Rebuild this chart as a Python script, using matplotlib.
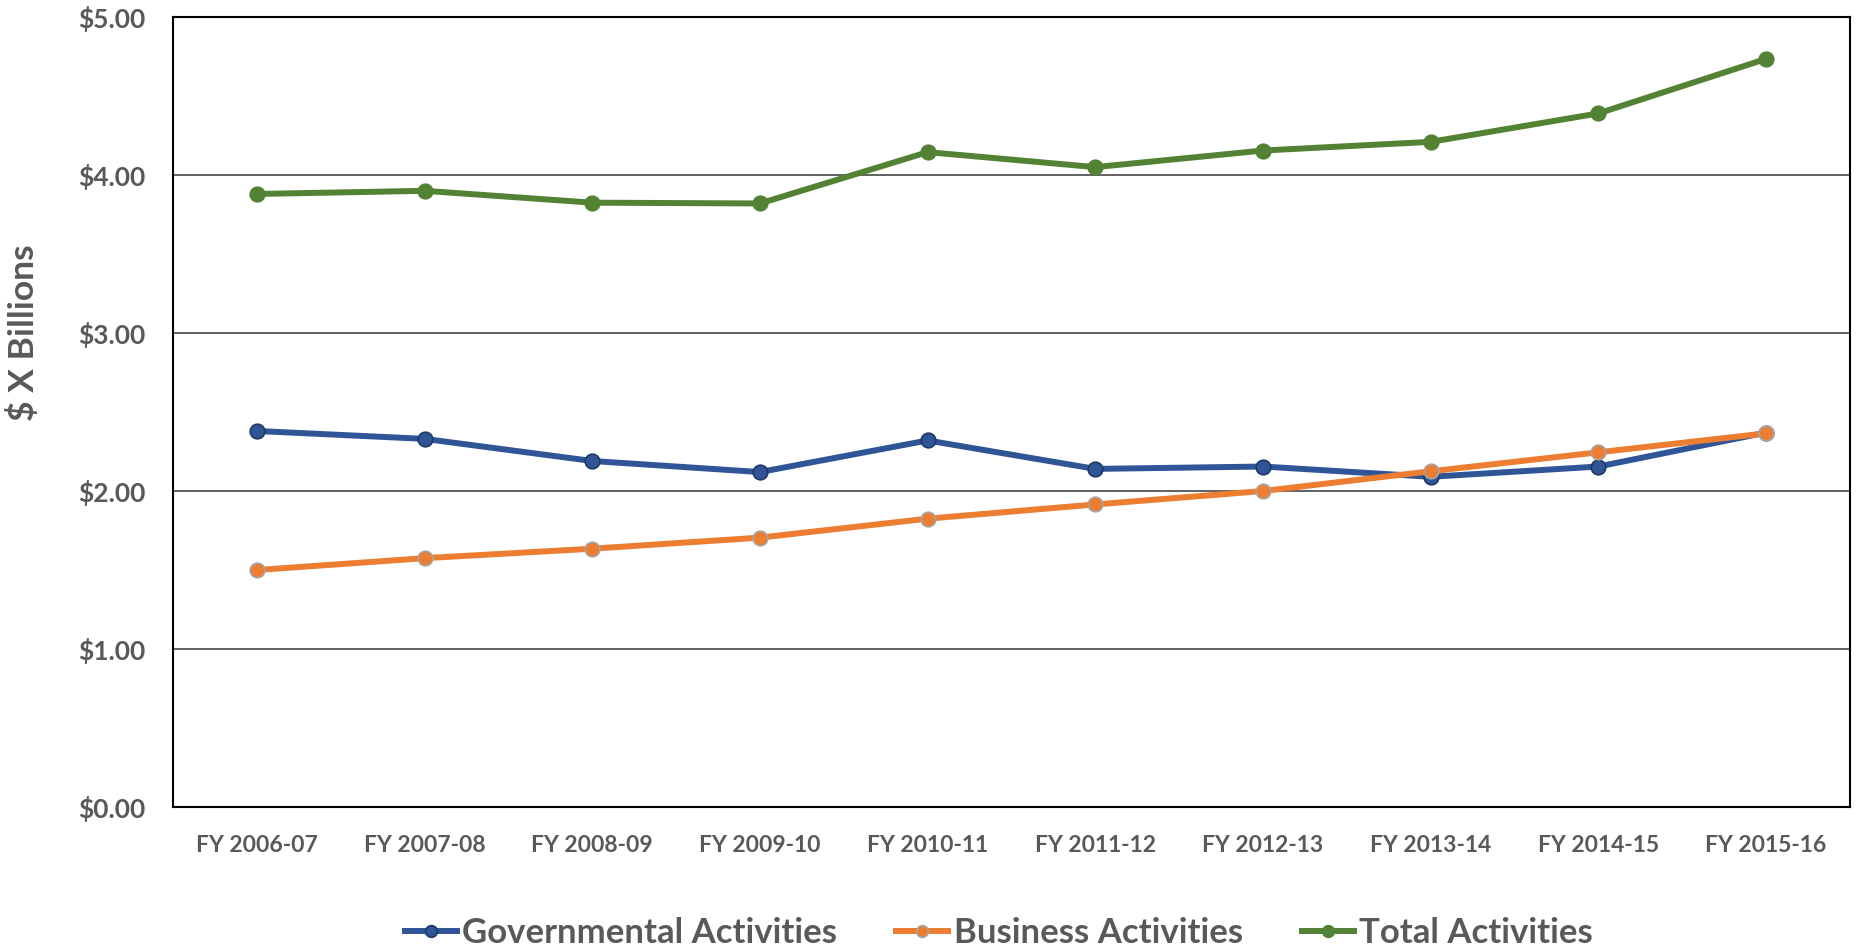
import numpy as np
import matplotlib
matplotlib.use("Agg")
import matplotlib.pyplot as plt
from matplotlib.ticker import FuncFormatter

'''
Data:
'''
years = ["FY 2006-07", "FY 2007-08", "FY 2008-09", "FY 2009-10", "FY 2010-11",
         "FY 2011-12", "FY 2012-13", "FY 2013-14", "FY 2014-15", "FY 2015-16"]
governmental = [2.38, 2.33, 2.19, 2.12, 2.32, 2.14, 2.155, 2.09, 2.155, 2.37]
business = [1.50, 1.575, 1.635, 1.705, 1.825, 1.915, 2.00, 2.125, 2.245, 2.365]
total = [3.88, 3.90, 3.825, 3.82, 4.145, 4.05, 4.155, 4.21, 4.39, 4.735]

'''
Setup:
'''
plt.rcParams['font.family'] = ['Lato', 'DejaVu Sans']
plt.rcParams['font.weight'] = 'bold'
grey = "#595959"

fig = plt.figure(figsize=(18.6, 9.51), dpi=100)
ax = fig.add_axes([0.093, 0.1514, 0.9016, 0.8307])

'''
Create Graphic:
'''
x = np.arange(len(years))
ax.plot(x, governmental, color="#2F5597", lw=4.3, marker="o", ms=10.5,
        mfc="#2F5597", mec="#1F3864", mew=1.2, label="Governmental Activities", zorder=3)
ax.plot(x, business, color="#ED7D31", lw=4.3, marker="o", ms=10.5,
        mfc="#ED7D31", mec="#A5A5A5", mew=1.2, label="Business Activities", zorder=4)
ax.plot(x, total, color="#548235", lw=4.3, marker="o", ms=10.5,
        mfc="#548235", mec="#548235", mew=1.2, label="Total Activities", zorder=3)

ax.set_xlim(-0.5, len(years) - 0.5)
ax.set_ylim(0, 5)
ax.set_yticks(np.arange(0, 5.01, 1))
ax.yaxis.set_major_formatter(FuncFormatter(lambda v, p: "${:.2f}".format(v)))
ax.set_xticks(x)
ax.set_xticklabels(years)
ax.tick_params(axis="both", length=0, colors=grey)
ax.tick_params(axis="x", labelsize=16.5, pad=20)
ax.tick_params(axis="y", labelsize=19, pad=20)
ax.grid(axis="y", color="#555555", lw=1.3)
ax.set_axisbelow(True)
for s in ax.spines.values():
    s.set_color("black")
    s.set_linewidth(1.5)

ax.set_ylabel("$ X Billions", fontsize=25.5, color=grey, fontweight="bold")
ax.yaxis.set_label_coords(-0.0795, 0.6)

leg = fig.legend(loc="center", bbox_to_anchor=(0.537, 0.019), ncol=3, frameon=False,
                 fontsize=25, handlelength=1.5, columnspacing=1.7, handletextpad=0.15,
                 markerscale=0.8)
for t in leg.get_texts():
    t.set_color(grey)

fig.savefig("out.png", dpi=100)
